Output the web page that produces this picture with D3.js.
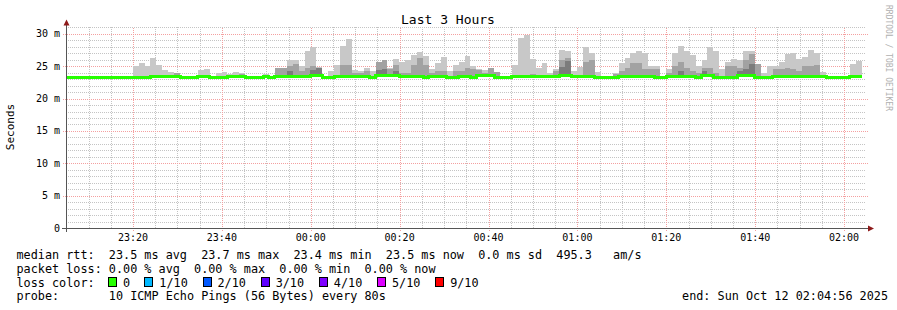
<!DOCTYPE html>
<html>
<head>
<meta charset="utf-8">
<script src="https://cdn.jsdelivr.net/npm/d3@7"></script>
<style>
  body { margin: 0; background: #fff; }
  text { font-family: "DejaVu Sans Mono", monospace; }
</style>
</head>
<body>
<div id="chart"></div>
<script>
// chart data (one value per 80s probe)
var medianRtt = [
  23.4,23.4,23.4,23.4,23.4,23.4,23.4,23.4,23.4,23.4,23.4,23.4,23.4,23.4,23.4,
  23.5,23.5,23.5,23.5,23.5,23.4,23.4,23.4,23.5,23.5,23.4,23.4,23.4,23.5,23.5,
  23.5,23.4,23.4,23.4,23.5,23.4,23.5,23.5,23.5,23.5,23.5,23.5,23.6,23.6,23.4,
  23.4,23.5,23.5,23.5,23.5,23.5,23.5,23.4,23.6,23.6,23.6,23.7,23.5,23.5,23.5,
  23.5,23.4,23.5,23.5,23.5,23.4,23.4,23.5,23.5,23.4,23.6,23.6,23.6,23.4,23.4,
  23.4,23.5,23.5,23.5,23.5,23.5,23.5,23.5,23.5,23.6,23.6,23.5,23.5,23.5,23.5,
  23.4,23.4,23.4,23.4,23.5,23.5,23.5,23.5,23.5,23.5,23.4,23.4,23.5,23.5,23.5,
  23.5,23.5,23.4,23.7,23.6,23.4,23.4,23.4,23.4,23.6,23.7,23.6,23.4,23.4,23.4,
  23.5,23.5,23.5,23.5,23.5,23.5,23.5,23.5,23.5,23.4,23.4,23.4,23.4,23.5,23.5
]
// outer smoke (max ping), null = no smoke above the median
var smokeOuter = [
  null,null,null,null,null,null,null,null,null,null,null,null,25.1,25.5,25.0,
  26.3,25.2,24.4,24.1,24.0,null,null,null,24.4,24.6,null,23.95,24.1,23.8,24.1,
  23.95,null,null,null,23.8,null,24.7,24.7,25.9,25.9,25.0,27.4,28.0,24.9,null,
  24.3,25.2,28.2,29.2,24.4,24.2,24.7,24.3,25.7,26.0,24.8,26.1,25.7,25.9,26.8,
  27.2,26.6,24.6,25.5,26.4,24.2,25.2,25.6,26.6,25.0,24.6,24.4,24.8,24.1,null,
  null,25.2,29.3,29.9,26.1,24.8,25.5,23.9,24.6,27.5,27.3,24.2,24.9,28.0,27.0,
  24.1,null,null,23.9,25.5,26.3,27.0,27.4,27.0,25.1,25.0,null,24.6,27.0,28.1,
  27.4,26.8,25.1,25.9,28.0,27.3,24.6,25.6,26.1,25.9,27.4,27.4,25.3,24.0,25.0,
  25.1,25.6,26.9,27.0,26.1,26.4,27.5,27.1,24.1,null,null,null,null,25.4,25.8
]
// inner smoke
var smokeInner = [
  null,null,null,null,null,null,null,null,null,null,null,null,null,null,null,
  null,null,null,null,23.9,null,null,null,null,null,null,null,null,null,null,
  23.85,null,null,null,null,null,24.7,24.7,25.0,25.4,24.2,24.8,25.1,24.8,null,
  null,null,25.2,25.2,23.9,23.9,24.2,null,25.6,26.0,24.5,25.2,24.0,24.0,25.2,
  26.3,25.2,24.0,24.2,24.3,null,24.2,24.2,24.7,24.5,24.4,24.0,24.8,24.1,null,
  null,null,null,null,23.8,null,null,null,24.2,25.9,26.3,null,null,25.6,26.0,
  null,null,null,23.85,24.2,24.7,25.5,25.5,24.6,24.5,24.5,null,24.0,25.1,25.6,
  24.7,24.3,24.0,24.7,24.7,24.0,null,25.0,25.1,24.7,25.9,26.9,25.3,null,null,
  24.6,24.6,24.7,24.5,24.2,25.0,25.0,25.2,null,null,null,null,null,null,null
]
// core smoke
var smokeCore = [
  null,null,null,null,null,null,null,null,null,null,null,null,null,null,null,
  null,null,null,null,null,null,null,null,null,null,null,null,null,null,null,
  null,null,null,null,null,null,null,null,24.2,null,null,null,24.4,24.8,null,
  null,null,null,null,null,null,null,null,24.4,24.6,null,24.3,null,null,null,
  null,null,null,null,null,null,null,null,null,null,null,null,null,null,null,
  null,null,null,null,null,null,null,null,null,24.9,25.8,null,null,null,null,
  null,null,null,null,null,null,null,null,null,null,null,null,null,null,24.3,
  null,null,null,24.2,null,null,null,null,null,24.2,24.5,25.3,null,null,null,
  null,null,null,null,null,null,null,null,null,null,null,null,null,null,null
]
var yTicks = [0, 5, 10, 15, 20, 25, 30]
var lossLabels = ["0", "1/10", "2/10", "3/10", "4/10", "5/10", "9/10"]
var lossColors = ["#26ff00", "#00b8ff", "#0059ff", "#5e00ff", "#7e00ff", "#dd00ff", "#ff0000"]
var legendRows = [
  "median rtt:  23.5 ms avg  23.7 ms max  23.4 ms min  23.5 ms now  0.0 ms sd  495.3   am/s",
  "packet loss: 0.00 % avg  0.00 % max  0.00 % min  0.00 % now"
]

// set the dimensions
var width = 897,
    height = 310,
    plotLeft = 66, plotRight = 866, plotTop = 27.4, plotBottom = 228

var t0 = new Date(Date.UTC(2025, 9, 11, 23, 4, 56))
var t1 = new Date(Date.UTC(2025, 9, 12, 2, 4, 56))
var stepMs = 80 * 1000, firstEdgeMs = 20 * 1000

var x = d3.scaleUtc().domain([t0, t1]).range([plotLeft, plotRight])
var y = d3.scaleLinear().domain([0, 31]).range([plotBottom, plotTop])

var svg = d3.select("#chart")
  .append("svg")
    .attr("width", width)
    .attr("height", height)
    .style("display", "block")

svg.append("rect").attr("width", width).attr("height", height).attr("fill", "#fff")

svg.append("clipPath").attr("id", "plotclip")
  .append("rect")
    .attr("x", plotLeft).attr("y", plotTop)
    .attr("width", plotRight - plotLeft).attr("height", plotBottom - plotTop)

// grid
var minorY = d3.range(1, 32).filter(function(v) { return v % 5 != 0 })
var majorY = yTicks.filter(function(v) { return v > 0 })
var minorX = x.ticks(d3.utcMinute.every(5)).filter(function(d) { return d.getUTCMinutes() % 20 != 0 })
var majorX = x.ticks(d3.utcMinute.every(20))

var grid = svg.append("g").attr("shape-rendering", "crispEdges")
grid.selectAll("minorY").data(minorY).enter().append("line")
  .attr("x1", plotLeft).attr("x2", plotRight)
  .attr("y1", function(d) { return Math.round(y(d)) + 0.5 })
  .attr("y2", function(d) { return Math.round(y(d)) + 0.5 })
  .attr("stroke", "#c4c4c4").attr("stroke-dasharray", "1,1")
grid.selectAll("minorX").data(minorX).enter().append("line")
  .attr("x1", function(d) { return Math.round(x(d)) + 0.5 })
  .attr("x2", function(d) { return Math.round(x(d)) + 0.5 })
  .attr("y1", plotBottom).attr("y2", plotTop)
  .attr("stroke", "#c4c4c4").attr("stroke-dasharray", "1,1")
grid.selectAll("majorY").data(majorY).enter().append("line")
  .attr("x1", plotLeft - 3).attr("x2", plotRight + 2)
  .attr("y1", function(d) { return Math.round(y(d)) + 0.5 })
  .attr("y2", function(d) { return Math.round(y(d)) + 0.5 })
  .attr("stroke", "#f4a0a0").attr("stroke-dasharray", "1,1")
grid.selectAll("majorX").data(majorX).enter().append("line")
  .attr("x1", function(d) { return Math.round(x(d)) + 0.5 })
  .attr("x2", function(d) { return Math.round(x(d)) + 0.5 })
  .attr("y1", plotBottom + 3).attr("y2", plotTop)
  .attr("stroke", "#f4a0a0").attr("stroke-dasharray", "1,1")

// samples, one per probe step
var samples = medianRtt.map(function(m, i) {
  return {
    t: new Date(t0.getTime() + firstEdgeMs + (i - 1) * stepMs),
    med: m,
    outer: smokeOuter[i], inner: smokeInner[i], core: smokeCore[i]
  }
})
var last = samples[samples.length - 1]
samples.push(Object.assign({}, last, { t: new Date(last.t.getTime() + stepMs) }))

var plot = svg.append("g").attr("clip-path", "url(#plotclip)")

var smoke = [
  { key: "outer", color: "#c8c8c8" },
  { key: "inner", color: "#a2a2a2" },
  { key: "core",  color: "#7c7c7c" }
]
smoke.forEach(function(s) {
  var area = d3.area()
    .curve(d3.curveStepAfter)
    .x(function(d) { return x(d.t) })
    .y0(function(d) { return y(d.med) })
    .y1(function(d) { return y(d[s.key] == null ? d.med : d[s.key]) })
  plot.append("path")
    .datum(samples)
    .attr("d", area)
    .attr("fill", s.color)
    .attr("shape-rendering", "crispEdges")
})

var medLine = d3.line()
  .curve(d3.curveStepAfter)
  .x(function(d) { return x(d.t) })
  .y(function(d) { return Math.round(y(d.med)) + 0.5 })
plot.append("path")
  .datum(samples)
  .attr("d", medLine)
  .attr("fill", "none")
  .attr("stroke", lossColors[0])
  .attr("stroke-width", 3)
  .attr("shape-rendering", "crispEdges")

// axes
var axisColor = "#555"
svg.append("line")
  .attr("x1", plotLeft - 4).attr("x2", plotRight + 4)
  .attr("y1", plotBottom + 0.5).attr("y2", plotBottom + 0.5)
  .attr("stroke", axisColor).attr("shape-rendering", "crispEdges")
svg.append("line")
  .attr("x1", plotLeft + 0.5).attr("x2", plotLeft + 0.5)
  .attr("y1", plotBottom + 4).attr("y2", plotTop - 4)
  .attr("stroke", axisColor).attr("shape-rendering", "crispEdges")
svg.append("path")
  .attr("d", "M" + (plotLeft - 2.5) + "," + (plotTop - 2) + "L" + (plotLeft + 0.5) + "," + (plotTop - 8) + "L" + (plotLeft + 3.5) + "," + (plotTop - 2) + "Z")
  .attr("fill", "#8e1a1a")
svg.append("path")
  .attr("d", "M" + (plotRight + 2) + "," + (plotBottom - 2.5) + "L" + (plotRight + 8) + "," + (plotBottom + 0.5) + "L" + (plotRight + 2) + "," + (plotBottom + 3.5) + "Z")
  .attr("fill", "#8e1a1a")

svg.selectAll("ylabels").data(yTicks).enter().append("text")
  .attr("x", 60)
  .attr("y", function(d) { return y(d) + 3.5 })
  .attr("text-anchor", "end")
  .attr("font-size", "10px")
  .attr("fill", "#000")
  .text(function(d) { return d == 0 ? "0" : d + " m" })

var fmt = d3.utcFormat("%H:%M")
svg.selectAll("xlabels").data(majorX).enter().append("text")
  .attr("x", function(d) { return x(d) })
  .attr("y", 241)
  .attr("text-anchor", "middle")
  .attr("font-size", "10px")
  .attr("fill", "#000")
  .text(function(d) { return fmt(d) })

// titles
svg.append("text")
  .attr("x", 448).attr("y", 24)
  .attr("text-anchor", "middle")
  .attr("font-size", "13px")
  .text("Last 3 Hours")
svg.append("text")
  .attr("transform", "translate(14,127) rotate(-90)")
  .attr("text-anchor", "middle")
  .attr("font-size", "11px")
  .text("Seconds")
svg.append("text")
  .attr("transform", "translate(885.5,5) rotate(90)")
  .attr("font-size", "8px")
  .attr("fill", "#b0b0b0")
  .text("RRDTOOL / TOBI OETIKER")

// legend
var rowY = [259, 272.5, 286.5, 300]
svg.selectAll("legendRows").data(legendRows).enter().append("text")
  .attr("x", 16.5)
  .attr("y", function(d, i) { return rowY[i] })
  .attr("font-size", "11.8px")
  .style("white-space", "pre")
  .text(function(d) { return d })

svg.append("text")
  .attr("x", 16.5).attr("y", rowY[2])
  .attr("font-size", "11.8px")
  .text("loss color:")
var lossIdx = [13, 18, 26, 34, 42, 50, 58]
var lossG = svg.selectAll("lossItem").data(lossLabels).enter().append("g")
  .attr("transform", function(d, i) { return "translate(" + (108 + (lossIdx[i] - 13) * 7.27) + ",0)" })
lossG.append("rect")
  .attr("x", 0.5).attr("y", 277.5)
  .attr("width", 8).attr("height", 9)
  .attr("fill", function(d, i) { return lossColors[i] })
  .attr("stroke", "#000")
  .attr("shape-rendering", "crispEdges")
lossG.append("text")
  .attr("x", 15).attr("y", rowY[2])
  .attr("font-size", "11.8px")
  .text(function(d) { return d })

svg.append("text")
  .attr("x", 16.5).attr("y", rowY[3])
  .attr("font-size", "11.8px")
  .style("white-space", "pre")
  .text("probe:       10 ICMP Echo Pings (56 Bytes) every 80s")
svg.append("text")
  .attr("x", 888).attr("y", rowY[3])
  .attr("text-anchor", "end")
  .attr("font-size", "11.8px")
  .text("end: Sun Oct 12 02:04:56 2025")
</script>
</body>
</html>
